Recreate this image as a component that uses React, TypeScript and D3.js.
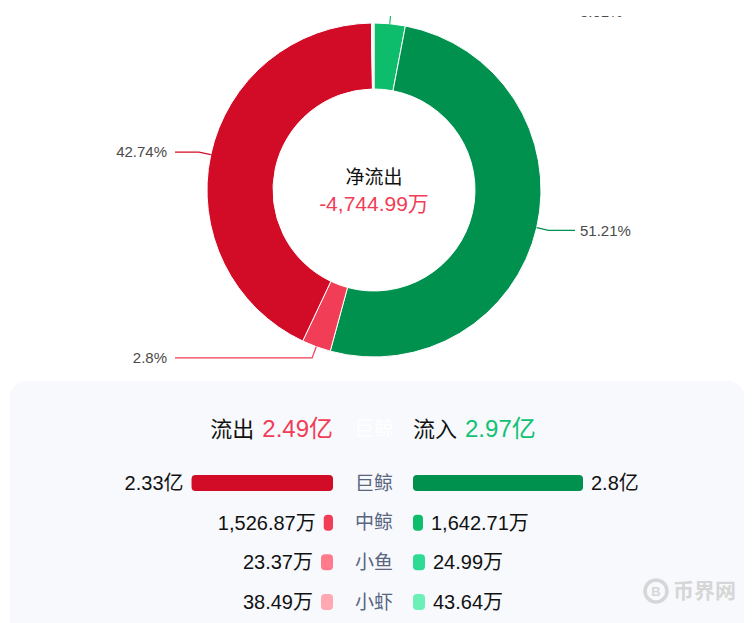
import React from "react";
import * as d3 from "d3";

// ---- data ----
const categories = ["巨鲸", "中鲸", "小鱼", "小虾"];
const outflowWan = [23300, 1526.87, 23.37, 38.49]; // 万
const inflowWan = [28000, 1642.71, 24.99, 43.64]; // 万
const totalOutYi = 2.49;
const totalInYi = 2.97;
const netFlowWan = -4744.99;

// donut slices (percent of total), clockwise from 12 o'clock
const sliceNames = ["中鲸流入", "巨鲸流入", "中鲸流出", "巨鲸流出", "小鱼流出", "小虾流出", "小鱼流入", "小虾流入"];
const slicePercents = [3.01, 51.21, 2.8, 42.74, 0.04, 0.07, 0.05, 0.08];
const sliceLabelShown = [true, true, true, true, false, false, false, false];

const outColors = ["#d20b27", "#f23d56", "#ff7b8b", "#ffa8b1"];
const inColors = ["#01914f", "#0dbd6c", "#2edb95", "#6cf0b8"];
const sliceColors = [inColors[1], inColors[0], outColors[1], outColors[0], outColors[2], outColors[3], inColors[2], inColors[3]];

const W = 755;
const H = 623;
const FONT = "'Liberation Sans', Arial, 'Noto Sans CJK SC', sans-serif";

function fmtWan(v: number): string {
  if (Math.abs(v) >= 10000) {
    return `${+(v / 10000).toFixed(2)}亿`;
  }
  return `${d3.format(",.2f")(v).replace("\u2212", "-")}万`;
}

export default function App() {
  const cx = 374;
  const cy = 190;
  const R = 167;
  const r = 101;

  const pie = d3
    .pie<number>()
    .sort(null)
    .value((d) => d)
    .startAngle(0)
    .endAngle(Math.PI * 2);
  const arcs = pie(slicePercents);
  const arc = d3.arc<d3.PieArcDatum<number>>().innerRadius(r).outerRadius(R);

  const barScale = d3.scaleLinear().domain([0, d3.max(inflowWan.concat(outflowWan))!]).range([0, 170]);
  const barW = (v: number) => {
    const w = barScale(v);
    return w < 2 ? 12 : w;
  };

  const leftEnd = 333;
  const rightStart = 413;
  const rowY = d3.scalePoint<string>().domain(categories).range([483, 602]);
  const barH = 16;

  return (
    <svg
      width={W}
      height={H}
      style={{ position: "absolute", left: 0, top: 0, background: "#fff" }}
      fontFamily={FONT}
    >
      {/* donut */}
      <g transform={`translate(${cx},${cy})`}>
        {arcs.map((a, i) => (
          <path key={i} d={arc(a) || ""} fill={sliceColors[i]} stroke="#fff" strokeWidth={1} />
        ))}
      </g>
      {/* labels */}
      {arcs.map((a, i) => {
        if (!sliceLabelShown[i]) return null;
        const mid = (a.startAngle + a.endAngle) / 2;
        const dx = Math.sin(mid);
        const dy = -Math.cos(mid);
        const p0 = [cx + R * dx, cy + R * dy];
        const p1 = [p0[0] + 12 * dx, p0[1] + 12 * dy];
        const right = dx >= 0;
        const p2x = right ? 575 : 175;
        const tx = right ? 580 : 167;
        return (
          <g key={"l" + i}>
            <polyline
              points={`${p0[0]},${p0[1]} ${p1[0]},${p1[1]} ${p2x},${p1[1]}`}
              fill="none"
              stroke={sliceColors[i]}
              strokeWidth={1.2}
            />
            <text
              x={tx}
              y={p1[1]}
              dy="0.35em"
              textAnchor={right ? "start" : "end"}
              fontSize={15}
              fill="#4a4a4a"
            >
              {`${slicePercents[i]}%`}
            </text>
          </g>
        );
      })}
      {/* top cover */}
      <rect x={0} y={0} width={W} height={16} fill="#fff" />

      {/* center text */}
      <text x={cx} y={177} textAnchor="middle" dy="0.35em" fontSize={19} fill="#111">
        净流出
      </text>
      <text x={cx} y={204} textAnchor="middle" dy="0.35em" fontSize={21} fill="#f23d56">
        {fmtWan(netFlowWan)}
      </text>

      {/* panel */}
      <rect x={10} y={381} width={734} height={270} rx={16} fill="#f7f9fd" />

      {/* header */}
      <text x={leftEnd} y={429} dy="0.35em" textAnchor="end" fontSize={22} fill="#111">
        流出
        <tspan dx={8} fill="#f23d56" fontSize={24}>{`${totalOutYi}亿`}</tspan>
      </text>
      <text x={cx} y={429} dy="0.35em" textAnchor="middle" fontSize={20} fill="#fff">
        {categories[0]}
      </text>
      <text x={rightStart} y={429} dy="0.35em" textAnchor="start" fontSize={22} fill="#111">
        流入
        <tspan dx={8} fill="#10c273" fontSize={24}>{`${totalInYi}亿`}</tspan>
      </text>

      {/* rows */}
      {categories.map((c, i) => {
        const y = rowY(c)!;
        const lw = barW(outflowWan[i]);
        const rw = barW(inflowWan[i]);
        return (
          <g key={c}>
            <rect x={leftEnd - lw} y={y - barH / 2} width={lw} height={barH} rx={4} fill={outColors[i]} />
            <rect x={rightStart} y={y - barH / 2} width={rw} height={barH} rx={4} fill={inColors[i]} />
            <text x={leftEnd - lw - 8} y={y} dy="0.35em" textAnchor="end" fontSize={20} fill="#111">
              {fmtWan(outflowWan[i])}
            </text>
            <text x={rightStart + rw + 8} y={y} dy="0.35em" textAnchor="start" fontSize={20} fill="#111">
              {fmtWan(inflowWan[i])}
            </text>
            <text x={cx} y={y} dy="0.35em" textAnchor="middle" fontSize={19} fill="#5a6580">
              {c}
            </text>
          </g>
        );
      })}

      {/* watermark */}
      <g>
        <circle cx={656} cy={591} r={11} fill="none" stroke="#d6d6d6" strokeWidth={3.5} />
        <text x={656} y={591} dy="0.35em" textAnchor="middle" fontSize={13} fontWeight="bold" fill="#d6d6d6">
          B
        </text>
        <text x={673} y={591} dy="0.35em" fontSize={21} fontWeight="bold" fill="#d6d6d6">
          币界网
        </text>
      </g>
    </svg>
  );
}
